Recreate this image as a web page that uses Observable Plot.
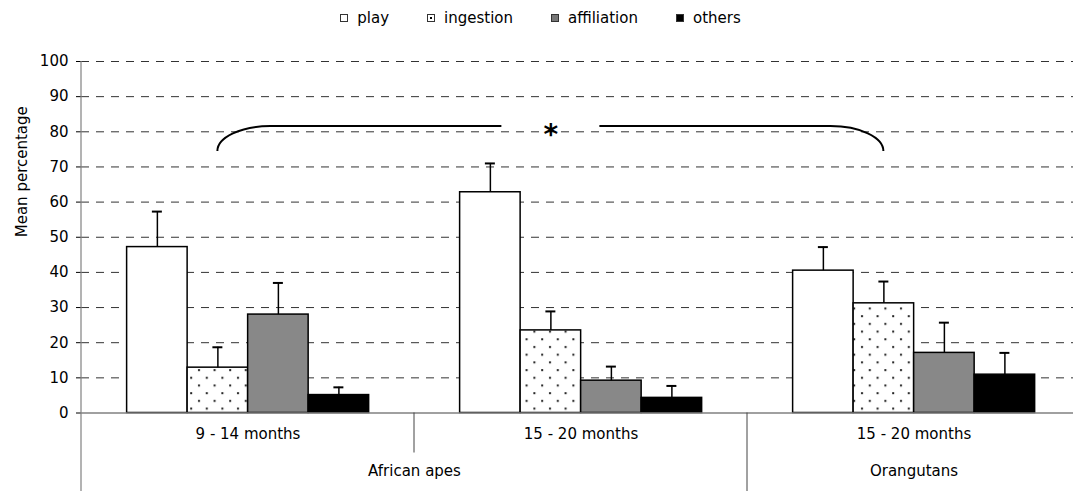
<!DOCTYPE html>
<html><head><meta charset="utf-8">
<script src="https://cdn.jsdelivr.net/npm/d3@7"></script>
<script src="https://cdn.jsdelivr.net/npm/@observablehq/plot@0.6"></script>
<style>
html,body{margin:0;padding:0;background:#fff;}
#wrap{width:1073px;height:491px;overflow:hidden;position:relative;font-family:"DejaVu Sans",sans-serif;color:#000;}
#legend{height:35px;width:1073px;display:flex;justify-content:center;align-items:center;gap:38px;font-size:15px;padding-left:8px;box-sizing:border-box;}
#legend .item{display:flex;align-items:center;gap:9px;}
#legend svg{display:block;}
#chart{width:1080px;}
#chart svg{display:block;max-width:none !important;}
</style></head><body>
<div id="wrap"><div id="legend"></div><div id="chart"></div></div>
<script>
// ---- data ----
const groups = ["9 - 14 months", "15 - 20 months", "15 - 20 months"];
const species = ["African apes", "Orangutans"];
const speciesFirstGroup = [0, 2];
const speciesLastGroup = [1, 2];
const series = ["play", "ingestion", "affiliation", "others"];
const meanPlay        = [47.2, 62.8, 40.5];
const meanIngestion   = [12.9, 23.5, 31.2];
const meanAffiliation = [28.0,  9.2, 17.1];
const meanOthers      = [ 5.1,  4.3, 10.9];
const errPlay         = [10.1,  8.2,  6.7];
const errIngestion    = [ 5.8,  5.4,  6.2];
const errAffiliation  = [ 9.0,  4.0,  8.6];
const errOthers       = [ 2.2,  3.4,  6.2];
const yTicks = [0, 10, 20, 30, 40, 50, 60, 70, 80, 90, 100];
const sigFromGroup = 0, sigToGroup = 2, sigSeries = "ingestion", sigLabel = "*";
const sigLevel = 81.5, sigDrop = 7.1;

// ---- table ----
const means = [meanPlay, meanIngestion, meanAffiliation, meanOthers];
const errs = [errPlay, errIngestion, errAffiliation, errOthers];
const rows = [];
groups.forEach((g, gi) => series.forEach((s, si) => rows.push({gi, si, series: s, mean: means[si][gi], err: errs[si][gi]})));

const PAD = 0.137, BW = 0.1817, CAP = 0.015;
const left = d => d.gi + PAD + d.si * BW;
const center = d => left(d) + BW / 2;
const sigSi = series.indexOf(sigSeries);
const sigX = gi => gi + PAD + (sigSi + 0.5) * BW;

const fills = ["#fff", "url(#dots)", "url(#checker)", "#000"];
const FONT = "DejaVu Sans, sans-serif";

const chart = Plot.plot({
  width: 1080, height: 456,
  marginLeft: 81, marginRight: 0, marginTop: 26, marginBottom: 78.5,
  style: {fontFamily: FONT, fontSize: "15px", color: "#000", background: "#fff", overflow: "visible"},
  x: {domain: [0, 3], axis: null},
  y: {domain: [0, 100], ticks: yTicks, tickSize: 5, tickPadding: 8, label: null, tickFormat: d => d},
  color: {domain: series, range: fills},
  marks: [
    Plot.ruleY(yTicks.filter(v => v > 0), {stroke: "#333", strokeWidth: 1, strokeDasharray: "8,7"}),
    Plot.rectY(rows, {x1: left, x2: d => left(d) + BW, y1: 0, y2: "mean", fill: "series", stroke: "#000", strokeWidth: 1.5}),
    Plot.ruleX(rows, {x: center, y1: "mean", y2: d => d.mean + d.err, stroke: "#000", strokeWidth: 1.5}),
    Plot.ruleY(rows, {y: d => d.mean + d.err, x1: d => center(d) - CAP, x2: d => center(d) + CAP, stroke: "#000", strokeWidth: 2}),
    Plot.ruleY([0], {stroke: "#808080", strokeWidth: 1.5}),
    (index, {x, y}, values, dims) => {
      const g = d3.create("svg:g").attr("stroke", "#808080").attr("stroke-width", 1.2);
      const y0 = y(0);
      g.append("line").attr("x1", x(0)).attr("x2", x(0)).attr("y1", y(100)).attr("y2", dims.height);
      for (let gi = 1; gi < groups.length; gi++) {
        const isSpeciesBoundary = speciesFirstGroup.includes(gi);
        g.append("line").attr("stroke", "#444").attr("stroke-width", 1)
          .attr("x1", x(gi)).attr("x2", x(gi)).attr("y1", y0).attr("y2", isSpeciesBoundary ? dims.height : y0 + 40);
      }
      return g.node();
    },
    (index, {x, y}) => {
      const L = x(sigX(sigFromGroup)), R = x(sigX(sigToGroup));
      const yt = y(sigLevel), yb = y(sigLevel - sigDrop);
      const rx = 53, ry = yb - yt, mid = (L + R) / 2, gap = 49;
      const path = `M${L},${yb} A${rx},${ry} 0 0 1 ${L + rx},${yt} H${mid - gap} M${mid + gap},${yt} H${R - rx} A${rx},${ry} 0 0 1 ${R},${yb}`;
      return d3.create("svg:path").attr("d", path).attr("fill", "none").attr("stroke", "#000").attr("stroke-width", 2).node();
    },
    Plot.text([sigLabel], {x: () => (sigX(sigFromGroup) + sigX(sigToGroup)) / 2, y: () => sigLevel, text: d => d, fontSize: 28, fontWeight: "bold", dy: 9, fill: "#000"}),
    Plot.text(groups, {x: (d, i) => i + 0.5, frameAnchor: "bottom", dy: 25.5, text: d => d, fill: "#000"}),
    Plot.text(species, {x: (d, i) => (speciesFirstGroup[i] + speciesLastGroup[i] + 1) / 2, frameAnchor: "bottom", dy: 62.5, text: d => d, fill: "#000"}),
    Plot.text(["Mean percentage"], {frameAnchor: "left", dx: -59, rotate: -90, text: d => d, fill: "#000"})
  ]
});

// patterns
const defs = d3.select(chart).insert("defs", ":first-child");
const dots = defs.append("pattern").attr("id", "dots").attr("patternUnits", "userSpaceOnUse").attr("width", 15.6).attr("height", 15.4);
dots.append("rect").attr("width", 15.6).attr("height", 15.4).attr("fill", "#fff");
dots.append("rect").attr("x", 3).attr("y", 3).attr("width", 2).attr("height", 2).attr("fill", "#222");
dots.append("rect").attr("x", 10.8).attr("y", 10.7).attr("width", 2).attr("height", 2).attr("fill", "#222");
const ch = defs.append("pattern").attr("id", "checker").attr("patternUnits", "userSpaceOnUse").attr("width", 2).attr("height", 2)
  .attr("patternTransform", "translate(0.5,0)");
ch.append("rect").attr("width", 2).attr("height", 2).attr("fill", "#fff");
ch.append("rect").attr("width", 1).attr("height", 1).attr("fill", "#111");
ch.append("rect").attr("x", 1).attr("y", 1).attr("width", 1).attr("height", 1).attr("fill", "#111");
document.getElementById("chart").appendChild(chart);

// legend
const legend = d3.select("#legend");
series.forEach((s, si) => {
  const item = legend.append("div").attr("class", "item");
  const sv = item.append("svg").attr("width", 8).attr("height", 8);
  sv.append("rect").attr("x", 0.5).attr("y", 0.5).attr("width", 7).attr("height", 7)
    .attr("fill", si === 2 ? "#777" : fills[si].startsWith("url") ? "#fff" : fills[si]).attr("stroke", "#333").attr("stroke-width", 1);
  if (si === 1) sv.append("rect").attr("x", 3).attr("y", 3).attr("width", 2).attr("height", 2).attr("fill", "#000");
  item.append("span").text(s);
});
</script>
</body></html>
